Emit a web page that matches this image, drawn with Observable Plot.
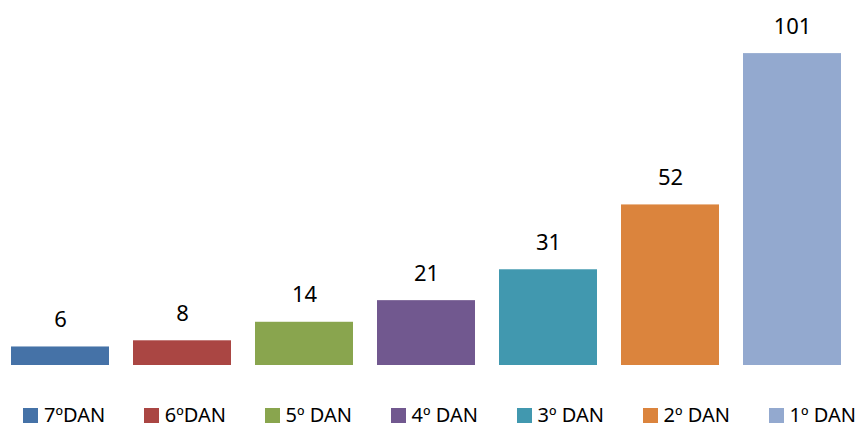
<!DOCTYPE html>
<html>
<head>
<meta charset="utf-8">
<script src="https://cdn.jsdelivr.net/npm/d3@7"></script>
<script src="https://cdn.jsdelivr.net/npm/@observablehq/plot@0.6"></script>
<style>
  html, body { margin: 0; padding: 0; background: #fff; }
  body { width: 860px; height: 427px; overflow: hidden; font-family: "Noto Sans", sans-serif; }
  #chart svg { display: block; }
  #legend { display: flex; justify-content: space-between; margin: 39px 4px 0 23px; font-size: 20px; line-height: 20px; height: 20px; color: #000; }
  #legend .item { display: flex; align-items: center; white-space: nowrap; height: 20px; }
  #legend .sw { width: 15px; height: 15px; margin-right: 6px; }
  #legend .lb { display: block; height: 20px; line-height: 20px; }
</style>
</head>
<body>
<div id="chart"></div>
<div id="legend"></div>
<script>
const categories = ["7ºDAN", "6ºDAN", "5º DAN", "4º DAN", "3º DAN", "2º DAN", "1º DAN"];
const values = [6, 8, 14, 21, 31, 52, 101];
const colors = ["#4572A7", "#AA4643", "#89A54E", "#71588F", "#4198AF", "#DB843D", "#93A9CF"];

const data = categories.map((c, i) => ({category: c, value: values[i]}));

const plot = Plot.plot({
  width: 860,
  height: 366,
  marginTop: 0,
  marginBottom: 1,
  marginLeft: 11,
  marginRight: 18,
  x: {domain: categories, paddingInner: 0.194, paddingOuter: 0, axis: null},
  y: {domain: [0, 118.2], axis: null},
  color: {domain: categories, range: colors},
  style: {fontFamily: "Noto Sans, sans-serif", background: "#fff"},
  marks: [
    Plot.barY(data, {x: "category", y: "value", fill: "category"}),
    Plot.text(data, {x: "category", y: "value", text: d => String(d.value), dy: -27, fontSize: 22, fill: "#000"})
  ]
});
document.getElementById("chart").appendChild(plot);

const legend = document.getElementById("legend");
categories.forEach((c, i) => {
  const item = document.createElement("div");
  item.className = "item";
  const sw = document.createElement("div");
  sw.className = "sw";
  sw.style.background = colors[i];
  const label = document.createElement("div");
  label.className = "lb";
  label.textContent = c;
  item.appendChild(sw);
  item.appendChild(label);
  legend.appendChild(item);
});
</script>
</body>
</html>
